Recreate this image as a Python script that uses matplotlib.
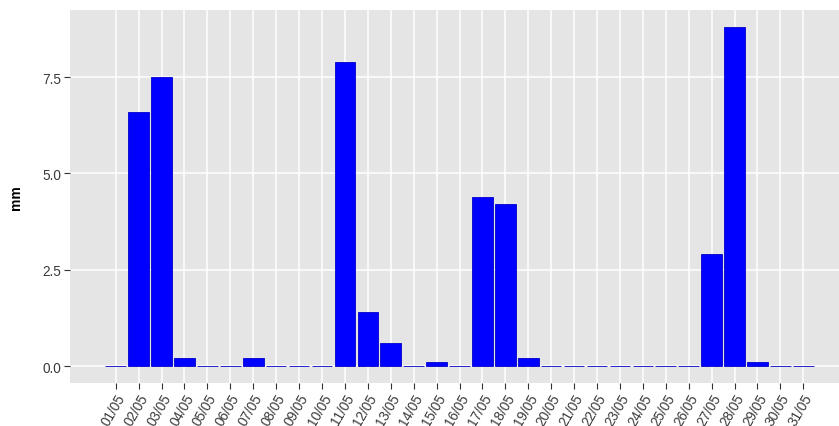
import matplotlib
matplotlib.use("Agg")
import matplotlib.pyplot as plt

plt.rcParams['font.family'] = ['Liberation Sans', 'DejaVu Sans']

days = list(range(1, 32))
day_labels = ["%02d/05" % d for d in days]
rain_mm = [0, 6.6, 7.5, 0.2, 0, 0, 0.2, 0, 0, 0,
           7.9, 1.4, 0.6, 0, 0.1, 0, 4.4, 4.2, 0.2, 0,
           0, 0, 0, 0, 0, 0, 2.9, 8.8, 0.1, 0, 0]
y_ticks = [0.0, 2.5, 5.0, 7.5]

W, H = 839, 427
fig = plt.figure(figsize=(W / 100, H / 100), dpi=100)
# panel runs past the right edge like in the reference
ax = fig.add_axes([70 / W, 43 / H, 779 / W, 373 / H])
ax.set_facecolor('#E5E5E5')
for s in ax.spines.values():
    s.set_visible(False)

ax.bar(days, rain_mm, width=0.9, color='#0000FF', edgecolor='#0000CC',
       linewidth=0.6, zorder=3)

ymax = max(rain_mm)
ax.set_ylim(-0.05 * ymax, 1.05 * ymax)
ax.set_xlim(-0.995, 32.995)
ax.set_yticks(y_ticks)
ax.set_yticklabels(["%.1f" % v for v in y_ticks])
ax.set_xticks(days)
ax.set_xticklabels(day_labels, rotation=60, ha='right', rotation_mode='anchor')

ax.grid(True, color='white', linewidth=1.1, zorder=0)
ax.set_axisbelow(True)
ax.tick_params(axis='both', colors='#333333', length=4, width=0.8,
               labelsize=9.8, labelcolor='#3A3A3A', pad=2)

ax.set_ylabel('mm', fontsize=10, fontweight='bold')
ax.yaxis.set_label_coords(-47 / 779, 0.5)

fig.savefig('out.png', dpi=100)
